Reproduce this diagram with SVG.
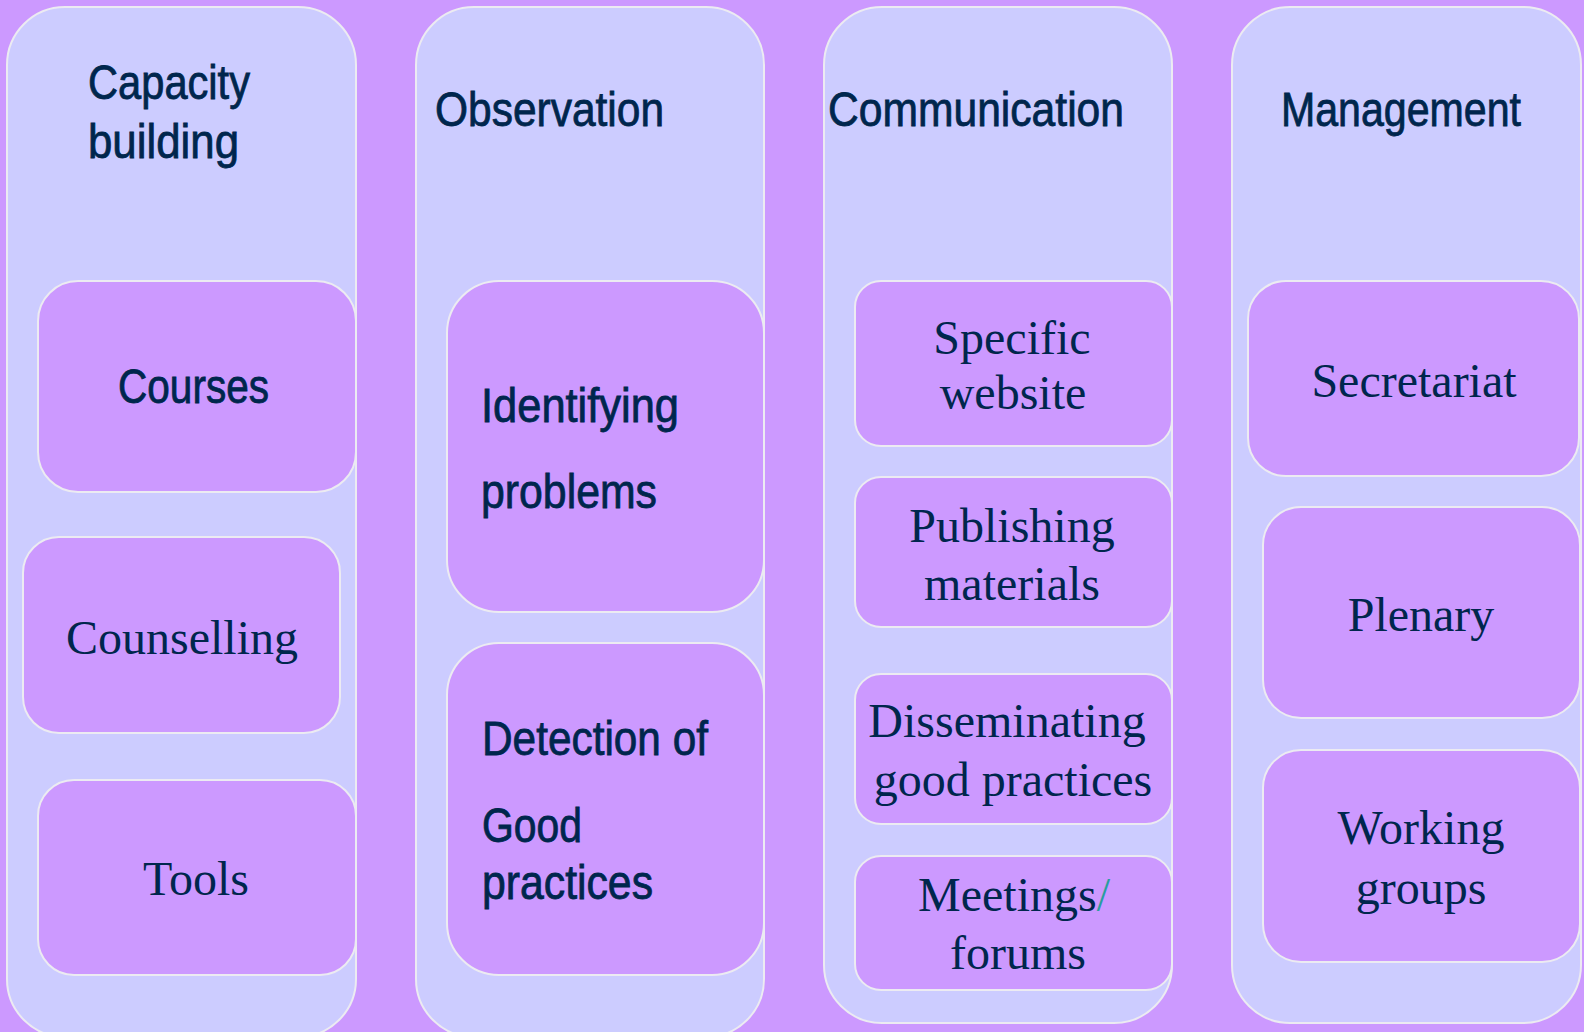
<svg xmlns="http://www.w3.org/2000/svg" width="1584" height="1032" viewBox="0 0 1584 1032">
<style>
.bg{fill:#cc99ff}
.col{fill:#ccccff;stroke:#ecebf2;stroke-width:2}
.box{fill:#cc99ff;stroke:#ecebf2;stroke-width:2}
.sans{font-family:"Liberation Sans Narrow","Liberation Sans",Arial,sans-serif;font-size:48px;fill:#00264d;stroke:#00264d;stroke-width:0.8}
.serif{font-family:"Liberation Serif","Times New Roman",serif;font-size:48px;fill:#00264d;text-anchor:middle}
.slash{fill:#2a9d9d}
</style>
<rect class="bg" x="0" y="0" width="1584" height="1032"/>

<g id="col-capacity">
<rect class="col" x="7" y="7" width="349" height="1030" rx="58"/>
<text class="sans"><tspan x="88" y="99" textLength="162" lengthAdjust="spacingAndGlyphs">Capacity</tspan><tspan x="88" y="158" textLength="151" lengthAdjust="spacingAndGlyphs">building</tspan></text>
</g>
<g id="node-courses">
<rect class="box" x="38" y="281" width="318" height="211" rx="40"/>
<text class="sans" x="118" y="403" textLength="151" lengthAdjust="spacingAndGlyphs">Courses</text>
</g>
<g id="node-counselling">
<rect class="box" x="23" y="537" width="317" height="196" rx="36"/>
<text class="serif" x="182" y="654">Counselling</text>
</g>
<g id="node-tools">
<rect class="box" x="38" y="780" width="318" height="195" rx="36"/>
<text class="serif" x="196" y="895">Tools</text>
</g>

<g id="col-observation">
<rect class="col" x="416" y="7" width="348" height="1030" rx="58"/>
<text class="sans" x="435" y="126" textLength="229" lengthAdjust="spacingAndGlyphs">Observation</text>
</g>
<g id="node-identifying">
<rect class="box" x="447" y="281" width="317" height="331" rx="52"/>
<text class="sans"><tspan x="481" y="422" textLength="198" lengthAdjust="spacingAndGlyphs">Identifying</tspan><tspan x="481" y="508" textLength="176" lengthAdjust="spacingAndGlyphs">problems</tspan></text>
</g>
<g id="node-detection">
<rect class="box" x="447" y="643" width="317" height="332" rx="52"/>
<text class="sans"><tspan x="482" y="755" textLength="226" lengthAdjust="spacingAndGlyphs">Detection of</tspan><tspan x="482" y="842" textLength="100" lengthAdjust="spacingAndGlyphs">Good</tspan><tspan x="482" y="899" textLength="171" lengthAdjust="spacingAndGlyphs">practices</tspan></text>
</g>

<g id="col-communication">
<rect class="col" x="824" y="7" width="348" height="1016" rx="58"/>
<text class="sans" x="828" y="126" textLength="296" lengthAdjust="spacingAndGlyphs">Communication</text>
</g>
<g id="node-website">
<rect class="box" x="855" y="281" width="317" height="165" rx="26"/>
<text class="serif"><tspan x="1012" y="354">Specific</tspan><tspan x="1013" y="409">website</tspan></text>
</g>
<g id="node-publishing">
<rect class="box" x="855" y="477" width="317" height="150" rx="26"/>
<text class="serif"><tspan x="1012" y="542">Publishing</tspan><tspan x="1012" y="600">materials</tspan></text>
</g>
<g id="node-disseminating">
<rect class="box" x="855" y="674" width="317" height="150" rx="26"/>
<text class="serif"><tspan x="1007" y="737">Disseminating</tspan><tspan x="1013" y="796">good practices</tspan></text>
</g>
<g id="node-meetings">
<rect class="box" x="855" y="856" width="317" height="134" rx="26"/>
<text class="serif"><tspan x="1014" y="911">Meetings<tspan class="slash">/</tspan></tspan><tspan x="1018" y="969">forums</tspan></text>
</g>

<g id="col-management">
<rect class="col" x="1232" y="7" width="349" height="1016" rx="58"/>
<text class="sans" x="1281" y="126" textLength="240" lengthAdjust="spacingAndGlyphs">Management</text>
</g>
<g id="node-secretariat">
<rect class="box" x="1248" y="281" width="331" height="195" rx="38"/>
<text class="serif" x="1414" y="397">Secretariat</text>
</g>
<g id="node-plenary">
<rect class="box" x="1263" y="507" width="317" height="211" rx="38"/>
<text class="serif" x="1421" y="631">Plenary</text>
</g>
<g id="node-working">
<rect class="box" x="1263" y="750" width="317" height="212" rx="38"/>
<text class="serif"><tspan x="1421" y="844">Working</tspan><tspan x="1421" y="904">groups</tspan></text>
</g>

<g id="connectors"/>
</svg>
